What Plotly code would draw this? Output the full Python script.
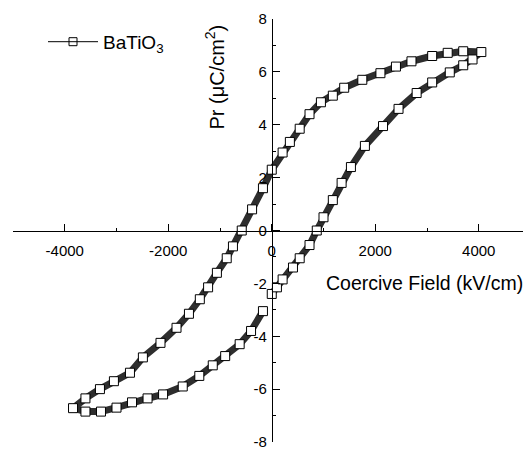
import plotly.graph_objects as go

# Branch 1: from E=0 up to +Emax (lower-right branch)
e_up = [0, 100, 210, 410, 540, 730, 870, 1000, 1180, 1350, 1530, 1800, 2150, 2450, 2800, 3100, 3440, 3700, 3880, 4050]
p_up = [-2.4, -2.15, -1.85, -1.4, -1.05, -0.55, 0.0, 0.5, 1.15, 1.8, 2.4, 3.2, 3.95, 4.6, 5.2, 5.6, 5.98, 6.25, 6.47, 6.75]

# Branch 2: from +Emax down to -Emax (upper branch)
e_down = [4050, 3700, 3400, 3100, 2700, 2400, 2100, 1750, 1400, 1180, 950, 730, 540, 350, 210, 0,
          -170, -380, -580, -750, -870, -1060, -1230, -1390, -1600, -1840, -2150, -2490, -2740,
          -3050, -3320, -3600, -3840]
p_down = [6.8, 6.78, 6.72, 6.6, 6.4, 6.2, 5.95, 5.7, 5.4, 5.1, 4.85, 4.4, 3.85, 3.35, 2.95, 2.3,
          1.6, 0.8, 0.0, -0.6, -1.05, -1.6, -2.15, -2.6, -3.15, -3.68, -4.25, -4.8, -5.38,
          -5.7, -6.0, -6.35, -6.72]

# Branch 3: from -Emax back toward zero (lower-left branch)
e_ret = [-3840, -3600, -3300, -3000, -2700, -2400, -2100, -1720, -1400, -1140, -900, -620, -400, -170]
p_ret = [-6.75, -6.85, -6.85, -6.7, -6.5, -6.35, -6.2, -5.9, -5.5, -5.1, -4.75, -4.3, -3.8, -3.05]

x_ticks = [-4000, -2000, 0, 2000, 4000]
x_labels = ["-4000", "-2000", "0", "2000", "4000"]
y_ticks = [-8, -6, -4, -2, 0, 2, 4, 6, 8]
y_labels = ["-8", "-6", "-4", "-2", "0", "2", "4", "6", "8"]
x_range = [-5000, 4855]
y_range = [-8, 8]

FONT = "Liberation Sans, Arial, sans-serif"

E = e_up + e_down[1:] + e_ret[1:]
P = p_up + p_down[1:] + p_ret[1:]

fig = go.Figure()
fig.add_trace(go.Scatter(
    x=E, y=P, mode="lines+markers", showlegend=False,
    line=dict(color="#2e2e2e", width=7),
    marker=dict(symbol="square", size=9, color="white", line=dict(color="black", width=1)),
))
# legend entry
fig.add_trace(go.Scatter(
    x=[None], y=[None], mode="lines+markers", name="BaTiO<sub>3</sub>",
    line=dict(color="black", width=1),
    marker=dict(symbol="square-open", size=8, color="black", line=dict(width=1)),
))

W, H = 523, 450
l, r, t, b = 13, 0, 19, 5
pw, ph = W - l - r, H - t - b
def px(xp): return (xp - l) / pw
def py(yp): return 1 - (yp - t) / ph

xpos = (0 - y_range[0]) / (y_range[1] - y_range[0])
ypos = (0 - x_range[0]) / (x_range[1] - x_range[0])

fig.update_layout(
    width=W, height=H,
    margin=dict(l=l, r=r, t=t, b=b),
    paper_bgcolor="white", plot_bgcolor="white",
    font=dict(family=FONT, size=15, color="black"),
    showlegend=True,
    legend=dict(x=px(43), y=py(42), xanchor="left", yanchor="middle",
                font=dict(size=19), bgcolor="rgba(0,0,0,0)", itemwidth=50),
    xaxis=dict(range=x_range, anchor="free", position=xpos,
               showline=True, linecolor="black", linewidth=1,
               showgrid=False, zeroline=False,
               tickvals=x_ticks, ticktext=x_labels, ticks="inside", ticklen=7, tickcolor="black",
               minor=dict(dtick=1000, tick0=0, ticks="inside", ticklen=3, tickcolor="black"),
               tickfont=dict(size=15), ticklabelstandoff=6, ticklabeloverflow="allow"),
    yaxis=dict(range=y_range, anchor="free", position=ypos,
               showline=True, linecolor="black", linewidth=1,
               showgrid=False, zeroline=False,
               tickvals=y_ticks, ticktext=y_labels, ticks="inside", ticklen=7, tickcolor="black",
               minor=dict(dtick=1, tick0=0, ticks="inside", ticklen=3, tickcolor="black"),
               tickfont=dict(size=15), ticklabelstandoff=2, ticklabeloverflow="allow"),
)
fig.add_annotation(text="Pr (\u03bcC/cm<sup>2</sup>)", x=px(215), y=py(78), xref="paper", yref="paper",
                   showarrow=False, textangle=-90, font=dict(size=20), xanchor="center", yanchor="middle")
fig.add_annotation(text="Coercive Field (kV/cm)", x=px(324), y=py(285), xref="paper", yref="paper",
                   showarrow=False, font=dict(size=19.5), xanchor="left", yanchor="middle")

fig.write_html("out.html")
